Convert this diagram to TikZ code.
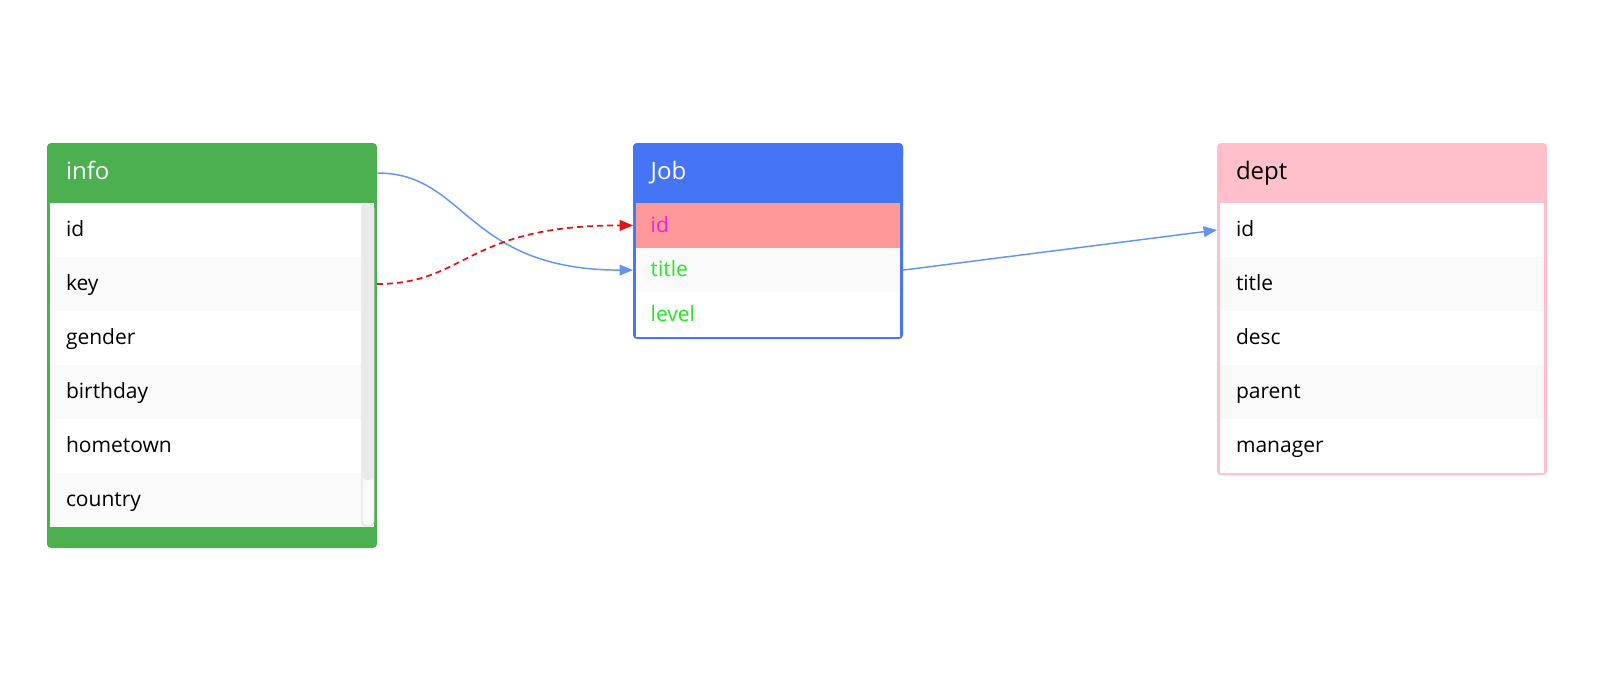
\documentclass[tikz,border=0pt]{standalone}
\usepackage{fontspec}
\setmainfont{Open Sans}
\usetikzlibrary{arrows.meta}
\definecolor{infogreen}{HTML}{4CAF50}
\definecolor{jobblue}{HTML}{4575F5}
\definecolor{jobborder}{HTML}{4A78EC}
\definecolor{deptpink}{HTML}{FFC0CB}
\definecolor{rowalt}{HTML}{FAFAFA}
\definecolor{idrow}{HTML}{FF9999}
\definecolor{magtext}{HTML}{F020E0}
\definecolor{greentext}{HTML}{1EEB1E}
\definecolor{linkblue}{HTML}{6495ED}
\definecolor{linkred}{HTML}{DD1515}
\definecolor{trackgray}{HTML}{D4D4D4}
\definecolor{thumbgray}{HTML}{EAEAEA}
\def\pxu{0.75pt}
\tikzset{
  hdr/.style={draw=none, inner ysep=0pt, inner xsep=19*\pxu, text width=292*\pxu,
    align=left, minimum height=60*\pxu, text height=12pt, text depth=2.5pt,
    font=\fontsize{18pt}{20pt}\selectfont},
  widerow/.style={draw=none, inner ysep=0pt, inner xsep=16*\pxu, text width=292*\pxu,
    align=left, minimum height=54*\pxu, outer xsep=3*\pxu, text height=12pt, text depth=1.8pt,
    font=\fontsize{15.75pt}{18pt}\selectfont, text=black},
  jobrow/.style={draw=none, inner ysep=0pt, inner xsep=14.7*\pxu, text width=234.6*\pxu,
    align=left, minimum height=44.75*\pxu, outer xsep=3*\pxu, text height=12pt, text depth=2pt,
    font=\fontsize{15.75pt}{18pt}\selectfont},
  jobhdr/.style={hdr, inner xsep=17.7*\pxu, text width=234.6*\pxu},
  link/.style={draw=linkblue, line width=1.1pt, -{Triangle[length=10pt,width=8pt]}},
  redlink/.style={draw=linkred, line width=1.3pt, dash pattern=on 4.5pt off 3pt,
    -{Triangle[length=10pt,width=8pt]}},
}
\begin{document}
\begin{tikzpicture}[x=0.75pt,y=-0.75pt]
\useasboundingbox (0,0) rectangle (1603,682);
% ---------- info ----------
\fill[infogreen, rounded corners=3pt] (47,143) rectangle (377,548);
\fill[white] (50,203) rectangle (374,527);
\node[hdr, text=white] (infoH) at (212,173) {info};
\node[widerow, fill=white]  (iid)   at (212,230) {id};
\node[widerow, fill=rowalt] (ikey)  at (212,284) {key};
\node[widerow, fill=white]  (igen)  at (212,338) {gender};
\node[widerow, fill=rowalt] (ibir)  at (212,392) {birthday};
\node[widerow, fill=white]  (ihome) at (212,446) {hometown};
\node[widerow, fill=rowalt] (icoun) at (212,500) {country};
\filldraw[fill=rowalt, draw=trackgray, line width=0.6pt, rounded corners=3pt] (362,204) rectangle (374,526);
\fill[thumbgray, rounded corners=3pt] (362.4,204.4) rectangle (373.6,480);
% ---------- Job ----------
\fill[jobborder, rounded corners=3pt] (633,143) rectangle (903,339);
\fill[jobblue, rounded corners=3pt] (633,143) rectangle (903,160);
\fill[jobblue] (633,155) rectangle (903,203);
\fill[white] (636,203) rectangle (900,336.5);
\node[jobhdr, text=white] (jobH) at (768,173) {Job};
\node[jobrow, fill=idrow, text=magtext]   (jid)    at (768,225.4) {id};
\node[jobrow, fill=rowalt, text=greentext] (jtitle) at (768,270.1) {title};
\node[jobrow, text=greentext]  (jlevel) at (768,314.9) {level};
% ---------- dept ----------
\fill[deptpink, rounded corners=3pt] (1217,143) rectangle (1547,475);
\fill[white] (1220,203) rectangle (1544,472.5);
\node[hdr, text=black] (deptH) at (1382,173) {dept};
\node[widerow, fill=white]  (did)   at (1382,230) {id};
\node[widerow, fill=rowalt] (dtitle) at (1382,284) {title};
\node[widerow, fill=white]  (ddesc) at (1382,338) {desc};
\node[widerow, fill=rowalt] (dpar)  at (1382,392) {parent};
\node[widerow]  (dman)  at (1382,445.5) {manager};
% ---------- connectors ----------
\draw[link] (infoH.east) .. controls (467,173) and (465,270) .. (jtitle.west);
\draw[redlink] (ikey.east) .. controls (467,284) and (465,225.4) .. (jid.west);
\draw[link] (jtitle.east) -- (did.west);
\end{tikzpicture}
\end{document}
